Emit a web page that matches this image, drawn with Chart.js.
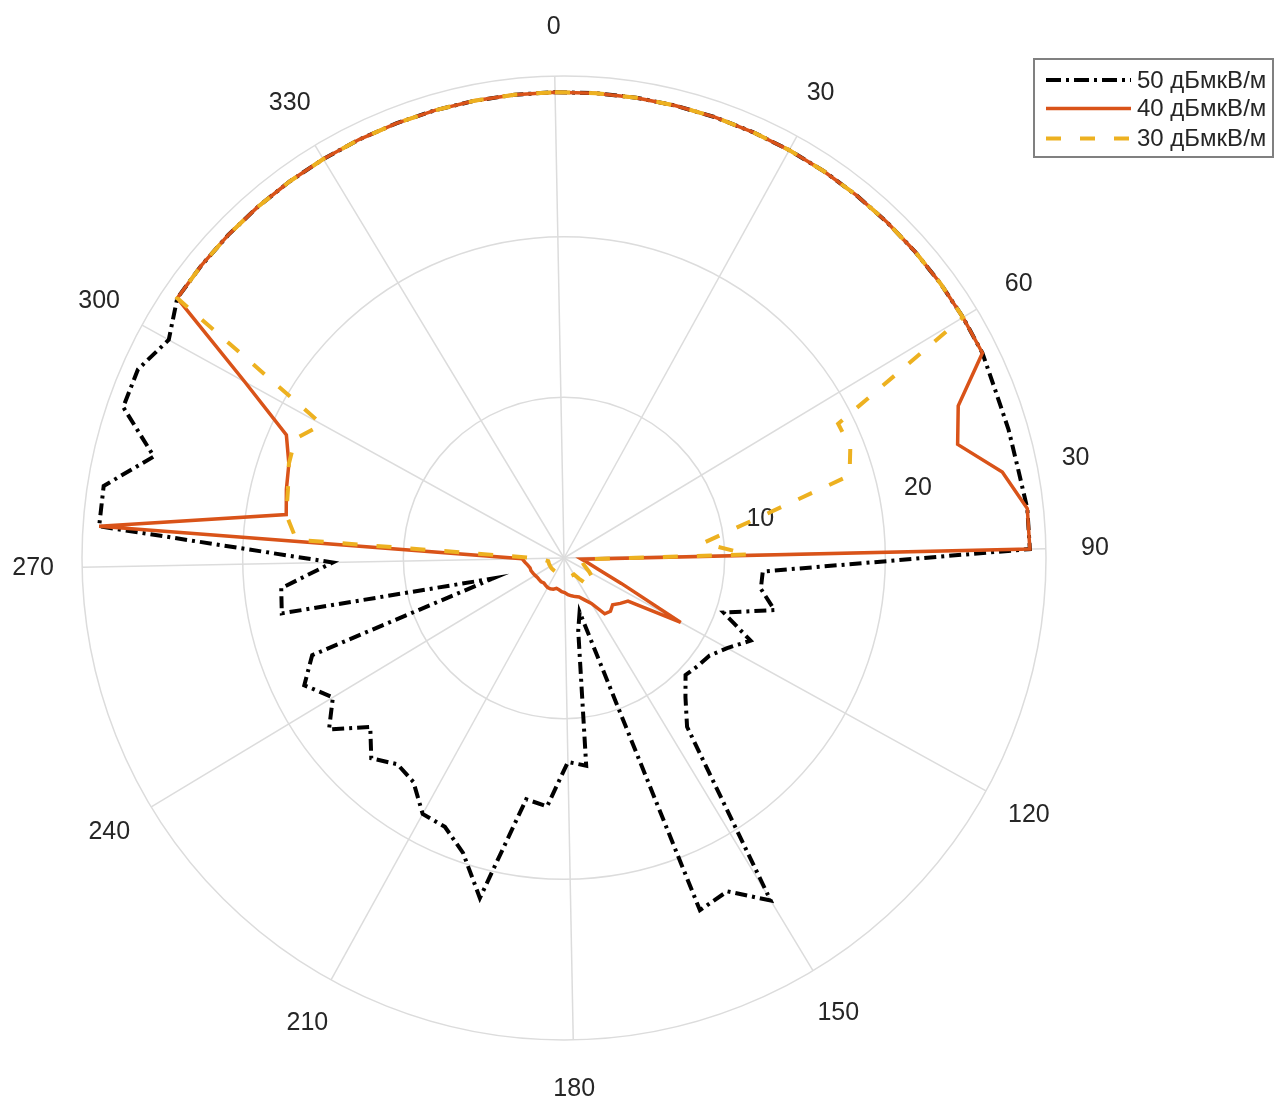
<!DOCTYPE html>
<html lang="ru">
<head>
<meta charset="utf-8">
<title>Диаграмма покрытия</title>
<script src="https://cdn.jsdelivr.net/npm/chart.js@4.4.1/dist/chart.umd.min.js"></script>
<style>
    html, body { margin: 0; padding: 0; background: #ffffff; }
    #wrap { position: relative; width: 1275px; height: 1101px; }
</style>
</head>
<body>
<div id="wrap"><canvas id="chart"></canvas></div>
<script>
// азимуты (градусы), шаг 5
const angles = [
    0, 5, 10, 15, 20, 25, 30, 35, 40, 45, 50, 55,
    60, 65, 70, 75, 80, 85, 90, 95, 100, 105, 110, 115,
    120, 125, 130, 135, 140, 145, 150, 155, 160, 165, 170, 175,
    180, 185, 190, 195, 200, 205, 210, 215, 220, 225, 230, 235,
    240, 245, 250, 255, 260, 265, 270, 275, 280, 285, 290, 295,
    300, 305, 310, 315, 320, 325, 330, 335, 340, 345, 350, 355
];

// названия серий
const seriesNames = ['50 дБмкВ/м', '40 дБмкВ/м', '30 дБмкВ/м'];

// 50 дБмкВ/м
const level50 = [
    29, 29, 29, 29, 29, 29, 29, 29, 29, 29, 29, 29,
    29, 29, 28.8, 28.8, 28.8, 29, 29, 12.4, 12.4, 13.5, 10.5, 12.7,
    11.6, 10.9, 10.7, 10.5, 11.5, 13.0, 24.9, 23.1, 23.5, 3.5, 4.6, 13.0,
    12.7, 15.5, 15.2, 21.8, 19.4, 18.3, 18.2, 16.8, 16.5, 17.3, 16.0, 18.1,
    16.8, 18.0, 16.8, 4.6, 17.9, 17.7, 14.4, 29, 29, 26.3, 29, 29,
    28.1, 29, 29, 29, 29, 29, 29, 29, 29, 29, 29, 29
];

// 40 дБмкВ/м
const level40 = [
    29, 29, 29, 29, 29, 29, 29, 29, 29, 29, 29, 29,
    29, 29, 26.3, 25.5, 27.8, 29, 29, 1.1, 1.35, 1.7, 2.35, 3.9,
    8.3, 4.8, 4.5, 4.2, 4.4, 4.3, 3.3, 2.9, 2.6, 2.5, 2.4, 2.3,
    2.15, 2.1, 2.0, 1.95, 2.05, 2.1, 2.1, 2.05, 2.0, 2.05, 2.05, 2.05,
    2.1, 2.15, 2.2, 2.2, 2.3, 2.45, 2.6, 29, 17.5, 17.8, 18.1, 18.9,
    22.7, 29, 29, 29, 29, 29, 29, 29, 29, 29, 29, 29
];

// 30 дБмкВ/м
const level30 = [
    29, 29, 29, 29, 29, 29, 29, 29, 29, 29, 29, 29,
    29, 19.0, 19.1, 18.5, 11.8, 8.7, 11.5, 1.2, 1.0, 1.2, 1.3, 1.5,
    1.8, 2.1, 2.3, 2.4, 2.2, 1.6, 1.2, 1.2, 1.2, 1.2, 1.1, 1.1,
    1.1, 1.1, 1.1, 1.1, 1.1, 1.0, 1.0, 1.0, 1.0, 1.0, 1.0, 1.0,
    1.0, 1.0, 1.0, 1.0, 1.0, 1.2, 1.5, 16.7, 17.5, 17.7, 18.1, 18.3,
    17.2, 29, 29, 29, 29, 29, 29, 29, 29, 29, 29, 29
];

// подписи осей
const rTicks = [10, 20, 30];
const angleTicks = [0, 30, 60, 90, 120, 150, 180, 210, 240, 270, 300, 330];

const FONT = '"Liberation Sans", Arial, Helvetica, sans-serif';
const TEXT_COLOR = '#262626';
const GRID_COLOR = '#dcdcdc';

const styles = [
    { color: '#000000', width: 4, dash: [12, 5, 3, 5] },
    { color: '#D95319', width: 3.5, dash: [] },
    { color: '#EDB120', width: 4, dash: [15, 19] }
];

// подписи углов и радиусов
const polarLabels = {
    id: 'polarLabels',
    beforeDatasetsDraw(chart) {
        const scale = chart.scales.r;
        const ctx = chart.ctx;
        ctx.save();
        ctx.font = '25px ' + FONT;
        ctx.fillStyle = TEXT_COLOR;
        ctx.textAlign = 'center';
        ctx.textBaseline = 'middle';
        angleTicks.forEach(a => {
            const p = scale.getPointPositionForValue(angles.indexOf(a), 33.05);
            ctx.fillText(String(a), p.x, p.y);
        });
        const rIdx = angles.indexOf(80);
        rTicks.forEach(v => {
            const p = scale.getPointPositionForValue(rIdx, v + 2.45);
            ctx.fillText(String(v), p.x, p.y);
        });
        ctx.restore();
    },
    afterDraw(chart) {
        drawLegend(chart.ctx);
    }
};

// легенда в правом верхнем углу
function drawLegend(ctx) {
    const box = { x: 1034, y: 59, w: 239, h: 98 };
    const rows = [80, 108.5, 138.5];
    ctx.save();
    ctx.fillStyle = '#ffffff';
    ctx.fillRect(box.x, box.y, box.w, box.h);
    ctx.strokeStyle = '#808080';
    ctx.lineWidth = 2;
    ctx.strokeRect(box.x, box.y, box.w, box.h);

    ctx.font = '24px ' + FONT;
    ctx.textAlign = 'left';
    ctx.textBaseline = 'middle';
    seriesNames.forEach((name, i) => {
        const s = styles[i];
        ctx.strokeStyle = s.color;
        ctx.lineWidth = s.width;
        ctx.setLineDash(i === 0 ? [15, 5, 3, 5] : s.dash);
        ctx.beginPath();
        ctx.moveTo(1046, rows[i]);
        ctx.lineTo(1131, rows[i]);
        ctx.stroke();
        ctx.setLineDash([]);
        ctx.fillStyle = TEXT_COLOR;
        ctx.fillText(name, 1137, rows[i] + 1);
    });
    ctx.restore();
}

const seriesData = [level50, level40, level30];

const chart = new Chart(document.getElementById('chart'), {
    type: 'radar',
    data: {
        labels: angles,
        datasets: seriesData.map((values, i) => ({
            label: seriesNames[i],
            data: values,
            borderColor: styles[i].color,
            borderWidth: styles[i].width,
            borderDash: styles[i].dash,
            backgroundColor: 'rgba(0,0,0,0)',
            fill: false,
            pointRadius: 0,
            pointHoverRadius: 0,
            tension: 0,
            order: 3 - i
        }))
    },
    options: {
        responsive: true,
        maintainAspectRatio: false,
        animation: false,
        layout: {
            padding: { left: 82, right: 229, top: 76, bottom: 61 }
        },
        plugins: {
            legend: { display: false },
            tooltip: { enabled: false }
        },
        scales: {
            r: {
                min: 0,
                max: 30,
                startAngle: -1.1,
                ticks: { stepSize: 10, display: false },
                pointLabels: { display: false },
                grid: { circular: true, color: GRID_COLOR, lineWidth: 1.5 },
                angleLines: {
                    color: ctx => (ctx.index % 6 === 0 ? GRID_COLOR : 'rgba(0,0,0,0)'),
                    lineWidth: ctx => (ctx.index % 6 === 0 ? 1.5 : 0)
                }
            }
        }
    },
    plugins: [polarLabels]
});
</script>
</body>
</html>
